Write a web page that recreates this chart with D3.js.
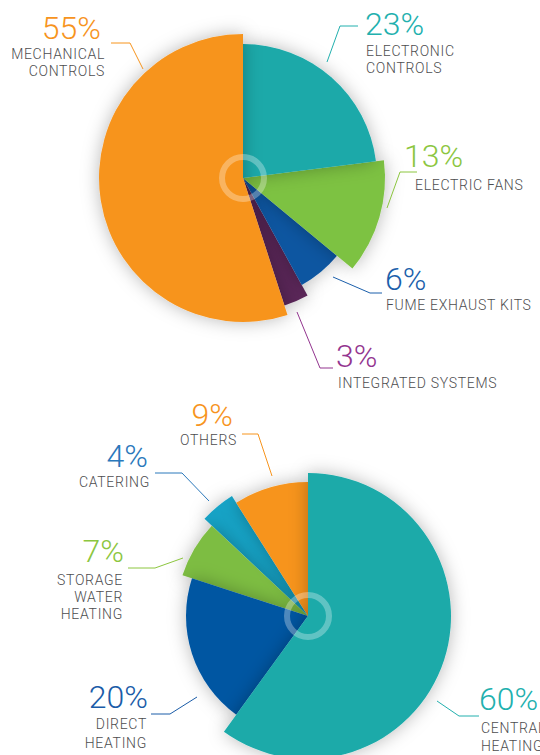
<!doctype html>
<html>
<head>
    <style>
        body { margin: 0; background: #fff; }
        svg { display: block; font-family: Roboto, "Open Sans", sans-serif; }
        .pct { font-weight: 300; font-size: 32px; }
        .name { font-size: 14px; font-weight: 300; fill: #4d4d4f; letter-spacing: 0.7px; }
    </style>
    <script src="https://d3js.org/d3.v7.min.js"></script>
</head>
<body>
    <svg width="540" height="755"></svg>
    <script>
        // data, clockwise from 12 o'clock
        var topNames = [["ELECTRONIC", "CONTROLS"], ["ELECTRIC FANS"], ["FUME EXHAUST KITS"], ["INTEGRATED SYSTEMS"], ["MECHANICAL", "CONTROLS"]];
        var topValues = [23, 13, 6, 3, 55];
        var bottomNames = [["CENTRAL", "HEATING"], ["DIRECT", "HEATING"], ["STORAGE", "WATER", "HEATING"], ["CATERING"], ["OTHERS"]];
        var bottomValues = [60, 20, 7, 4, 9];

        // styling
        var topColors = ["#1aa9a9", "#7dc242", "#0b56a1", "#5a2559", "#f7941d"];
        var topText = ["#22b0ae", "#8cc63f", "#1b5fab", "#93358f", "#f7941d"];
        var topRadii = [134, 142, 122, 134, 144];
        var bottomColors = ["#1aaaa9", "#0656a2", "#7dbd42", "#17a3c6", "#f7941d"];
        var bottomText = ["#22b0ae", "#1a5ca8", "#8cc63f", "#2a78bb", "#f7941d"];
        var bottomRadii = [143, 122, 132, 142, 134];

        // label layout (pct x/baseline, name x/baseline, leader line)
        var topLabels = [
            { a: "start", px: 365, py: 35, nx: 366, ny: 56, step: 17, line: [[358, 26], [340, 26], [327, 62]] },
            { a: "start", px: 404, py: 167, nx: 415, ny: 190, step: 17, line: [[417, 172], [400, 172], [387, 208]] },
            { a: "start", px: 385, py: 290, nx: 386, ny: 310, step: 17, line: [[333, 277], [370, 293], [382, 293]] },
            { a: "start", px: 336, py: 367, nx: 338, ny: 388, step: 17, line: [[297, 312], [320, 368], [333, 368]] },
            { a: "end", px: 101, py: 39, nx: 105, ny: 59, step: 17, line: [[111, 43], [130, 43], [143, 69]] }
        ];
        var bottomLabels = [
            { a: "start", px: 479, py: 710, nx: 481, ny: 733, step: 18, line: [[437, 701], [459, 716], [479, 716]] },
            { a: "end", px: 148, py: 708, nx: 147, ny: 729, step: 19, line: [[151, 714], [170, 714], [197, 697]] },
            { a: "end", px: 124, py: 562, nx: 123, ny: 585, step: 17, line: [[128, 568], [155, 568], [183, 558]] },
            { a: "end", px: 148, py: 467, nx: 150, ny: 487, step: 17, line: [[155, 473], [182, 473], [209, 501]] },
            { a: "end", px: 233, py: 426, nx: 237, ny: 445, step: 17, line: [[242, 434], [258, 434], [272, 476]] }
        ];

        var svg = d3.select("svg");

        var defs = svg.append("defs");
        var f = defs.append("filter").attr("id", "shadow")
            .attr("x", "-50%").attr("y", "-50%").attr("width", "200%").attr("height", "200%");
        f.append("feDropShadow").attr("dx", 0).attr("dy", 0)
            .attr("stdDeviation", 9).attr("flood-color", "#000").attr("flood-opacity", 0.28);

        var pie = d3.pie().sort(null).value(function (d) { return d; });

        function drawPie(cx, cy, values, names, colors, textColors, radii, labels) {
            var g = svg.append("g").attr("transform", "translate(" + cx + "," + cy + ")");
            var arcs = pie(values);
            // biggest slice last so its shadow falls on the others
            var order = arcs.slice().sort(function (a, b) { return a.value - b.value; });

            g.selectAll("path.slice")
                .data(order)
                .enter().append("path")
                .attr("class", "slice")
                .attr("fill", function (d) { return colors[d.index]; })
                .attr("filter", "url(#shadow)")
                .attr("d", function (d) {
                    return d3.arc().innerRadius(0).outerRadius(radii[d.index])(d);
                });

            g.append("circle")
                .attr("r", 21)
                .attr("fill", "none")
                .attr("stroke", "#fff")
                .attr("stroke-opacity", 0.3)
                .attr("stroke-width", 6);

            var line = d3.line();
            arcs.forEach(function (d, i) {
                var L = labels[i];
                svg.append("path")
                    .attr("d", line(L.line))
                    .attr("fill", "none")
                    .attr("stroke", textColors[i])
                    .attr("stroke-width", 1);
                svg.append("text")
                    .attr("class", "pct")
                    .attr("x", L.px).attr("y", L.py)
                    .attr("text-anchor", L.a)
                    .attr("fill", textColors[i])
                    .text(values[i] + "%");
                names[i].forEach(function (s, k) {
                    svg.append("text")
                        .attr("class", "name")
                        .attr("x", L.nx).attr("y", L.ny + k * L.step)
                        .attr("text-anchor", L.a)
                        .text(s);
                });
            });
        }

        drawPie(243, 178, topValues, topNames, topColors, topText, topRadii, topLabels);
        drawPie(308, 616, bottomValues, bottomNames, bottomColors, bottomText, bottomRadii, bottomLabels);
    </script>
</body>
</html>
